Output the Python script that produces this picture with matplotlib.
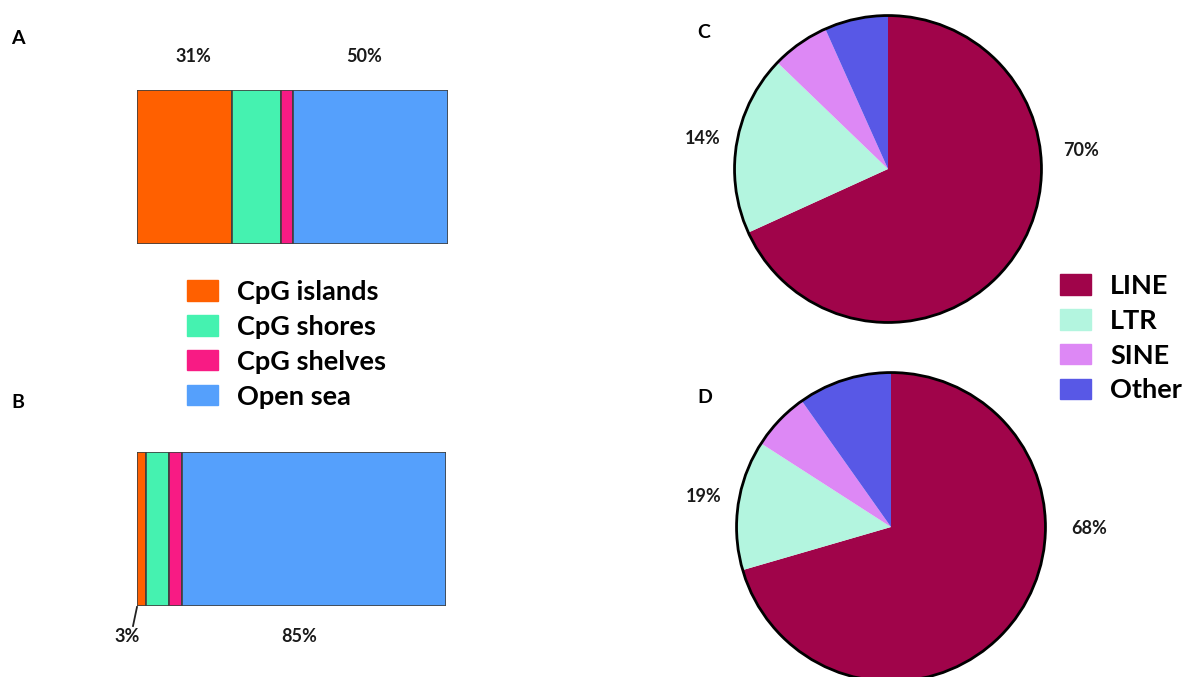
import matplotlib.pyplot as plt
from matplotlib.patches import Circle, Patch

W, H = 1188, 677

# bar data (% of probes)
regions = ["CpG islands", "CpG shores", "CpG shelves", "Open sea"]
region_colors = ["#ff6000", "#45f2b0", "#f81b84", "#55a0fc"]
bar_a = [30.5, 15.8, 3.9, 49.8]
bar_b = [3.0, 7.5, 4.0, 85.5]
bar_a_labels = ["31%", "50%"]
bar_b_labels = ["3%", "85%"]

# repeat classes
repeats = ["LINE", "LTR", "SINE", "Other"]
repeat_colors = ["#a0044a", "#b3f5df", "#dd88f5", "#5858e6"]
pie_c = [68.2, 19.0, 6.1, 6.7]
pie_d = [70.5, 13.6, 6.1, 9.8]
pie_c_labels = ["14%", "70%"]
pie_d_labels = ["19%", "68%"]

plt.rcParams['font.family'] = ['Lato', 'DejaVu Sans']

fig = plt.figure(figsize=(W / 100, H / 100), dpi=100)


def px_axes(x0, y0, x1, y1):
    # axes from pixel box (top-left origin)
    return fig.add_axes([x0 / W, 1 - y1 / H, (x1 - x0) / W, (y1 - y0) / H])


def ftext(x, y, s, **kw):
    kw.setdefault("ha", "center")
    kw.setdefault("va", "center")
    fig.text(x / W, 1 - y / H, s, **kw)


def stacked_bar(box, vals):
    ax = px_axes(*box)
    left = 0
    for v, c in zip(vals, region_colors):
        ax.barh(0.5, v, left=left, height=1, color=c, edgecolor="#404040", linewidth=1.2)
        left += v
    ax.set_xlim(0, sum(vals))
    ax.set_ylim(0, 1)
    ax.axis("off")
    return ax


stacked_bar((137, 90, 448, 244), bar_a)
stacked_bar((137, 452, 446, 606), bar_b)


def pie(cx, cy, r, vals):
    ax = px_axes(cx - r, cy - r, cx + r, cy + r)
    ax.pie(vals, colors=repeat_colors, startangle=90, counterclock=False,
           radius=1, wedgeprops=dict(linewidth=0))
    ax.add_patch(Circle((0, 0), 1, fill=False, edgecolor="black", linewidth=2))
    ax.set_xlim(-1.01, 1.01)
    ax.set_ylim(-1.01, 1.01)
    ax.axis("off")
    return ax


pie(888, 169, 155, pie_c)
pie(891, 527, 156, pie_d)

# panel letters
for x, y, s in [(18, 38, "A"), (18, 403, "B"), (704, 33, "C"), (705, 397, "D")]:
    ftext(x, y, s, fontsize=14, fontweight="bold")

# percent labels
lab = dict(fontsize=13, fontweight="bold", color="#1a1a1a")
ftext(193, 57, bar_a_labels[0], **lab)
ftext(364, 57, bar_a_labels[1], **lab)
ftext(127, 637, bar_b_labels[0], **lab)
ftext(299, 637, bar_b_labels[1], **lab)
ftext(703, 139, pie_c_labels[0], **lab)
ftext(1081, 151, pie_c_labels[1], **lab)
ftext(704, 496, pie_d_labels[0], **lab)
ftext(1089, 529, pie_d_labels[1], **lab)

# leader line for 3%
fig.add_artist(plt.Line2D([137 / W, 133 / W], [1 - 607 / H, 1 - 626 / H],
                          color="#222222", linewidth=1.3))

# legends
leg_kw = dict(frameon=False, prop=dict(family=['Lato', 'DejaVu Sans'], size=19.5, weight="bold"),
              handlelength=1.15, handleheight=0.78, handletextpad=0.7, labelspacing=0.40,
              borderpad=0, borderaxespad=0)
fig.legend(handles=[Patch(color=c, label=l) for c, l in zip(region_colors, regions)],
           loc="upper left", bbox_to_anchor=(187 / W, 1 - 280 / H), **leg_kw)
fig.legend(handles=[Patch(color=c, label=l) for c, l in zip(repeat_colors, repeats)],
           loc="upper left", bbox_to_anchor=(1060 / W, 1 - 274 / H), **leg_kw)

fig.savefig("out.png", dpi=100)
